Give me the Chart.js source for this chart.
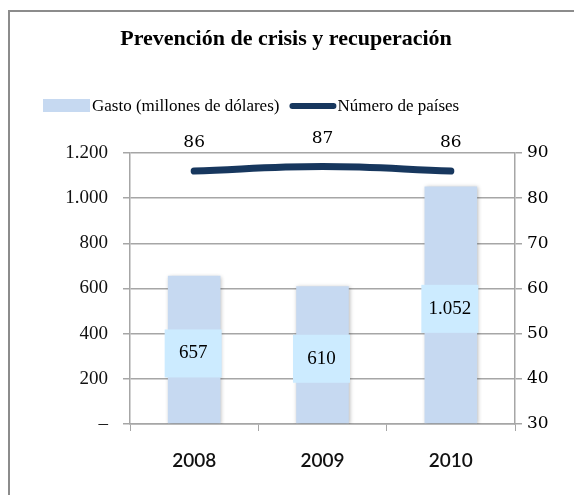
<!DOCTYPE html>
<html>
<head>
<meta charset="utf-8">
<script src="https://cdn.jsdelivr.net/npm/chart.js@4.4.1/dist/chart.umd.min.js"></script>
<style>
  body { margin: 0; background: #fff; }
  #wrap { position: relative; width: 574px; height: 495px; overflow: hidden; }
  #frame { position: absolute; left: 8px; top: 10px; width: 620px; height: 540px; border: 2px solid #8c8c8c; }
  #chart { position: absolute; left: 0; top: 0; }
</style>
</head>
<body>
<div id="wrap">
  <div id="frame"></div>
  <canvas id="chart" width="574" height="495"></canvas>
</div>
<script>
const chartTitle = 'Prevención de crisis y recuperación';
const years = ['2008', '2009', '2010'];
const gasto = [657, 610, 1052];
const paises = [86, 87, 86];
const gastoLabel = 'Gasto (millones de dólares)';
const paisesLabel = 'Número de países';

const BAR_COLOR = '#C6D9F1';
const LINE_COLOR = '#17375E';
const LABEL_BOX = '#CCEBFF';
const GRID = '#A6A6A6';

// 1200 -> "1.200"
function fmt(v) {
  return String(v).replace(/\B(?=(\d{3})+(?!\d))/g, '.');
}

// title and legend, drawn above the plot
const headerPlugin = {
  id: 'header',
  afterDraw(chart) {
    const ctx = chart.ctx;
    ctx.save();
    ctx.fillStyle = '#000';
    ctx.font = 'bold 22px "Liberation Serif"';
    ctx.textAlign = 'center';
    ctx.textBaseline = 'alphabetic';
    ctx.fillText(chartTitle, 286, 45);

    ctx.font = '17px "Liberation Serif"';
    ctx.textAlign = 'left';
    let x = 43;
    const y = 106;
    // bar item
    ctx.fillStyle = BAR_COLOR;
    ctx.fillRect(x, y - 7, 47, 13);
    ctx.fillStyle = '#000';
    ctx.fillText(gastoLabel, x + 49, y + 5);
    x += 49 + ctx.measureText(gastoLabel).width + 10;
    // line item
    ctx.strokeStyle = LINE_COLOR;
    ctx.lineWidth = 6;
    ctx.lineCap = 'round';
    ctx.beginPath();
    ctx.moveTo(x + 3, y);
    ctx.lineTo(x + 44, y);
    ctx.stroke();
    ctx.fillText(paisesLabel, x + 48, y + 5);
    ctx.restore();
  },
};

// soft shadow under the bars
const barShadow = {
  id: 'barShadow',
  beforeDatasetDraw(chart, args) {
    if (args.meta.type !== 'bar') return;
    const ctx = chart.ctx;
    ctx.save();
    ctx.shadowColor = 'rgba(0,0,0,0.28)';
    ctx.shadowBlur = 4;
    ctx.shadowOffsetX = 1;
    ctx.shadowOffsetY = 1;
  },
  afterDatasetDraw(chart, args) {
    if (args.meta.type !== 'bar') return;
    chart.ctx.restore();
  },
};

// value labels: boxes on the bars, plain numbers above the line
const valueLabels = {
  id: 'valueLabels',
  afterDatasetsDraw(chart) {
    const ctx = chart.ctx;
    ctx.save();
    chart.data.datasets.forEach((ds, i) => {
      const meta = chart.getDatasetMeta(i);
      meta.data.forEach((el, j) => {
        if (meta.type === 'bar') {
          const cy = (el.y + el.base) / 2 + 4;
          const w = 57, h = 48;
          ctx.fillStyle = LABEL_BOX;
          ctx.fillRect(el.x - w / 2 - 1, cy - h / 2, w, h);
          ctx.fillStyle = '#000';
          ctx.font = '19px "Liberation Serif"';
          ctx.textAlign = 'center';
          ctx.textBaseline = 'middle';
          ctx.fillText(fmt(ds.data[j]), el.x - 1, cy);
        } else {
          ctx.fillStyle = '#000';
          ctx.font = '17px "DejaVu Serif"';
          ctx.textAlign = 'center';
          ctx.textBaseline = 'middle';
          ctx.fillText(String(ds.data[j]), el.x, el.y - 28);
        }
      });
    });
    ctx.restore();
  },
};

new Chart(document.getElementById('chart'), {
  type: 'bar',
  data: {
    labels: years,
    datasets: [
      {
        type: 'bar',
        label: gastoLabel,
        data: gasto,
        backgroundColor: BAR_COLOR,
        categoryPercentage: 1,
        barPercentage: 0.41,
        yAxisID: 'y',
        order: 1,
      },
      {
        type: 'line',
        label: paisesLabel,
        data: paises,
        borderColor: LINE_COLOR,
        borderWidth: 7,
        borderCapStyle: 'round',
        tension: 0.4,
        pointRadius: 0,
        fill: false,
        yAxisID: 'y1',
        order: 0,
      },
    ],
  },
  options: {
    responsive: false,
    animation: false,
    layout: { padding: { top: 153, left: 0, right: 0, bottom: 0 } },
    plugins: {
      legend: { display: false },
      title: { display: false },
      tooltip: { enabled: false },
    },
    scales: {
      x: {
        grid: { drawOnChartArea: false, tickLength: 7, color: GRID },
        border: { color: GRID, width: 1.5 },
        ticks: {
          padding: 18,
          color: '#111',
          font: { family: 'Lato', size: 19, weight: '600' },
        },
        afterFit(scale) { scale.height = 71; },
      },
      y: {
        position: 'left',
        min: 0,
        max: 1200,
        grid: { color: GRID, lineWidth: 1.5, tickLength: 7 },
        border: { color: GRID, width: 1.5 },
        ticks: {
          stepSize: 200,
          padding: 15,
          color: '#111',
          font: { family: 'Liberation Serif', size: 19 },
          callback: (v) => (v === 0 ? '–' : fmt(v)),
        },
        afterFit(scale) { scale.width = 130; },
      },
      y1: {
        position: 'right',
        min: 30,
        max: 90,
        grid: { drawOnChartArea: false, color: GRID, lineWidth: 1.5, tickLength: 7 },
        border: { color: GRID, width: 1.5 },
        ticks: {
          stepSize: 10,
          padding: 5,
          color: '#000',
          font: { family: 'DejaVu Serif', size: 17 },
        },
        afterFit(scale) { scale.width = 59; },
      },
    },
  },
  plugins: [headerPlugin, barShadow, valueLabels],
});
</script>
</body>
</html>
